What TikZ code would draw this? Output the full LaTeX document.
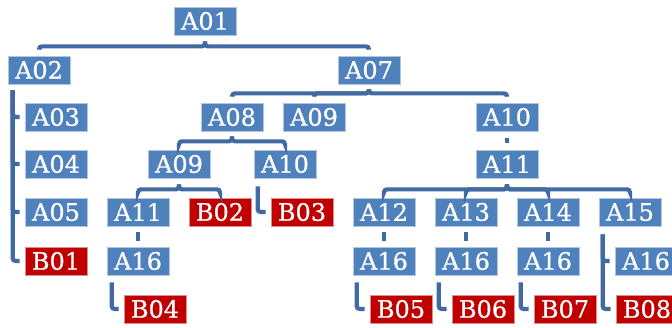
\documentclass[tikz,border=0pt]{standalone}
\usepackage{fontspec}
\newfontfamily\boxfont{DejaVu Serif}[FakeBold=0.7]
\definecolor{boxblue}{RGB}{79,129,189}
\definecolor{boxred}{RGB}{192,0,0}
\definecolor{linkblue}{RGB}{66,106,162}
\begin{document}
\begin{tikzpicture}[x=1pt,y=-1pt,
        unit/.style={fill=boxblue,draw=white!55!boxblue,line width=0.7pt,text=white,minimum width=62pt,minimum height=28pt,inner sep=0pt,font=\boxfont\fontsize{24}{24}\selectfont},
        leaf/.style={unit,fill=boxred,draw=white!55!boxred},
        link/.style={linkblue,line width=4.2pt,rounded corners=3pt,shorten <=6pt,shorten >=6pt}]
    \useasboundingbox (0,0) rectangle (672,327);

    % top levels
    \node[unit] (a01) at (205,21) {A01};
    \node[unit] (a02) at (39,70) {A02};
    \node[unit] (a07) at (369,70) {A07};
    \node[unit] (a03) at (56,117) {A03};
    \node[unit] (a04) at (56,164) {A04};
    \node[unit] (a05) at (56,212) {A05};
    \node[leaf] (b01) at (56,261) {B01};

    \node[unit] (a08) at (232,117) {A08};
    \node[unit] (a09) at (314,117) {A09};
    \node[unit] (a10) at (507,117) {A10};

    % left branch under A08
    \node[unit] (a09b) at (179,164) {A09};
    \node[unit] (a10b) at (285,164) {A10};
    \node[unit] (a11b) at (138,212) {A11};
    \node[leaf] (b02) at (220,212) {B02};
    \node[leaf] (b03) at (302,212) {B03};
    \node[unit] (a16b) at (138,261) {A16};
    \node[leaf] (b04) at (155,309) {B04};

    % right branch under A10
    \node[unit] (a11) at (507,164) {A11};
    \foreach \n/\x in {12/384,13/466,14/548,15/630} {
        \node[unit] (a\n) at (\x,212) {A\n};
    }
    \foreach \n/\x in {12/384,13/466,14/548} {
        \node[unit] (c\n) at (\x,261) {A16};
    }
    \node[unit] (c15) at (646,261) {A16};
    \foreach \n/\k/\x in {12/5/401,13/6/483,14/7/565,15/8/647} {
        \node[leaf] (b\n) at (\x,309) {B0\k};
    }

    % brackets
    \foreach \c in {a02,a07} \draw[link] (a01.south) -- ++(0,11) -| (\c.north);
    \foreach \c in {a08,a09,a10} \draw[link,shorten <=5pt] (a07.south) -- ++(0,9) -| (\c.north);
    \foreach \c in {a09b,a10b} \draw[link,shorten <=5pt] (a08.south) -- ++(0,10) -| (\c.north);
    \foreach \c in {a11b,b02} \draw[link] (a09b.south) -- ++(0,11) -| (\c.north);
    \foreach \n in {12,13,14,15} \draw[link] (a11.south) -- ++(0,11) -| (a\n.north);

    % side spines
    \foreach \c in {a03,a04,a05,b01} \draw[link,shorten <=0pt,shorten >=5pt] ([shift={(5,6)}]a02.south west) |- (\c.west);
    \draw[link,shorten <=0pt,shorten >=5pt] ([shift={(4,8)}]a10b.south west) |- (b03.west);
    \draw[link,shorten <=0pt,shorten >=5pt] ([shift={(5,7)}]a16b.south west) |- (b04.west);
    \foreach \n in {12,13,14} \draw[link,shorten <=0pt,shorten >=5pt] ([shift={(4,7)}]c\n.south west) |- (b\n.west);
    \foreach \c in {c15,b15} \draw[link,shorten <=0pt,shorten >=5pt] ([shift={(4,8)}]a15.south west) |- (\c.west);

    % short links
    \draw[link,shorten <=7pt,shorten >=7pt] (a10) -- (a11);
    \draw[link] (a11b) -- (a16b);
    \foreach \n in {12,13,14} \draw[link] (a\n) -- (c\n);
\end{tikzpicture}
\end{document}
